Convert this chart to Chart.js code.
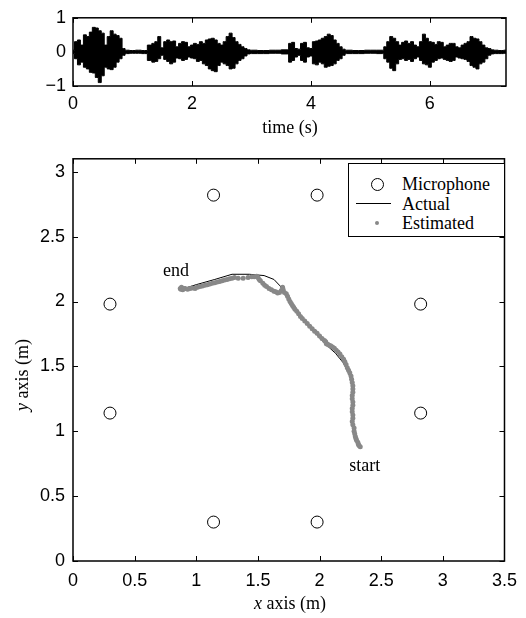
<!DOCTYPE html>
<html lang="en">
<head>
<meta charset="UTF-8" />
<title>Speaker tracking</title>
<script src="https://cdn.jsdelivr.net/npm/chart.js"></script>
<style>
  body { margin: 0; background: #fff; }
  #page { position: relative; width: 526px; height: 618px; overflow: hidden; }
  canvas { position: absolute; left: 0; }
  .lbl {
    position: absolute;
    font-family: "Liberation Serif", "Times New Roman", serif;
    font-size: 18px;
    line-height: 20px;
    color: #000;
    white-space: nowrap;
  }
  .lbl i { font-style: italic; }
  #legend {
    position: absolute; left: 348px; top: 163px; width: 155px; height: 72px;
    border: 1.5px solid #000; background: #fff;
  }
  #legend .sym { position: absolute; }
</style>
</head>
<body>
<div id="page">
  <canvas id="wave" width="526" height="140" style="top:0"></canvas>
  <canvas id="track" width="526" height="478" style="top:140px"></canvas>

  <div class="lbl" style="left:290px;top:117px;transform:translateX(-50%)">time (s)</div>
  <div class="lbl" style="left:290px;top:593px;transform:translateX(-50%)"><i>x</i> axis (m)</div>
  <div class="lbl" style="left:22px;top:375px;transform:translate(-50%,-50%) rotate(-90deg)"><i>y</i> axis (m)</div>

  <div id="legend">
    <div class="sym" style="left:22px;top:14px;width:11px;height:11px;border:1px solid #000;border-radius:50%"></div>
    <div class="lbl" style="left:53px;top:10px">Microphone</div>
    <div class="sym" style="left:7px;top:39px;width:35px;height:0;border-top:1px solid #000"></div>
    <div class="lbl" style="left:53px;top:30px">Actual</div>
    <div class="sym" style="left:26px;top:57px;width:4px;height:4px;background:#888;border-radius:50%"></div>
    <div class="lbl" style="left:53px;top:49px">Estimated</div>
  </div>
</div>

<script>
// ---- waveform envelope ----
const waveT = [0, 0.05, 0.1, 0.15, 0.2, 0.25, 0.3, 0.35, 0.4, 0.45, 0.5, 0.55, 0.6, 0.65, 0.7, 0.75, 0.8, 0.85, 0.9,
  1.0, 1.1, 1.2, 1.3, 1.35, 1.4, 1.45, 1.5, 1.55, 1.6, 1.65, 1.7, 1.75, 1.8, 1.85, 1.9, 1.95, 2.0, 2.05, 2.1, 2.15,
  2.2, 2.25, 2.3, 2.35, 2.4, 2.45, 2.5, 2.55, 2.6, 2.65, 2.7, 2.75, 2.8, 2.85, 2.9, 2.95, 3.0, 3.2, 3.4, 3.6, 3.65,
  3.7, 3.75, 3.8, 3.85, 3.9, 3.95, 4.0, 4.05, 4.1, 4.15, 4.2, 4.25, 4.3, 4.35, 4.4, 4.45, 4.5, 4.55, 4.6, 4.8, 5.0,
  5.2, 5.25, 5.3, 5.35, 5.4, 5.45, 5.5, 5.55, 5.6, 5.65, 5.7, 5.75, 5.8, 5.85, 5.9, 5.95, 6.0, 6.05, 6.1, 6.15, 6.2,
  6.25, 6.3, 6.35, 6.4, 6.45, 6.5, 6.55, 6.6, 6.65, 6.7, 6.75, 6.8, 6.85, 6.9, 6.95, 7.0, 7.05, 7.1, 7.2, 7.28];
const waveUpper = [0.05, 0.3, 0.35, 0.2, 0.5, 0.45, 0.58, 0.72, 0.7, 0.62, 0.55, 0.2, 0.45, 0.62, 0.52, 0.48, 0.4, 0.1, 0.05,
  0.04, 0.05, 0.04, 0.2, 0.25, 0.3, 0.45, 0.12, 0.3, 0.35, 0.3, 0.32, 0.15, 0.25, 0.3, 0.28, 0.15, 0.2, 0.25, 0.22, 0.3,
  0.25, 0.35, 0.38, 0.4, 0.35, 0.25, 0.2, 0.3, 0.45, 0.55, 0.42, 0.3, 0.22, 0.15, 0.1, 0.06, 0.05, 0.04, 0.05, 0.06, 0.25,
  0.28, 0.1, 0.08, 0.25, 0.28, 0.12, 0.1, 0.3, 0.32, 0.35, 0.4, 0.45, 0.52, 0.48, 0.35, 0.25, 0.15, 0.08, 0.05, 0.04, 0.05,
  0.05, 0.15, 0.3, 0.45, 0.4, 0.3, 0.2, 0.28, 0.32, 0.25, 0.3, 0.2, 0.15, 0.3, 0.52, 0.4, 0.3, 0.28, 0.22, 0.3, 0.28,
  0.15, 0.2, 0.25, 0.25, 0.15, 0.12, 0.2, 0.25, 0.3, 0.45, 0.4, 0.38, 0.3, 0.2, 0.12, 0.1, 0.06, 0.05, 0.04, 0.05];
const waveLower = [-0.05, -0.2, -0.38, -0.3, -0.45, -0.5, -0.6, -0.62, -0.75, -0.9, -0.7, -0.45, -0.5, -0.52, -0.45, -0.3, -0.2, -0.1, -0.05,
  -0.04, -0.04, -0.05, -0.25, -0.3, -0.28, -0.2, -0.1, -0.22, -0.28, -0.35, -0.3, -0.18, -0.2, -0.25, -0.22, -0.15, -0.18, -0.2, -0.28, -0.25,
  -0.35, -0.4, -0.5, -0.55, -0.58, -0.4, -0.3, -0.35, -0.4, -0.5, -0.48, -0.35, -0.25, -0.2, -0.12, -0.06, -0.05, -0.05, -0.04, -0.06, -0.3,
  -0.25, -0.15, -0.1, -0.25, -0.3, -0.15, -0.12, -0.35, -0.38, -0.3, -0.35, -0.45, -0.42, -0.4, -0.35, -0.25, -0.2, -0.1, -0.05, -0.05, -0.04,
  -0.05, -0.2, -0.3, -0.48, -0.55, -0.35, -0.22, -0.2, -0.25, -0.22, -0.28, -0.2, -0.15, -0.25, -0.35, -0.38, -0.45, -0.3, -0.25, -0.2, -0.18,
  -0.22, -0.25, -0.28, -0.25, -0.15, -0.18, -0.2, -0.22, -0.28, -0.4, -0.45, -0.5, -0.35, -0.3, -0.2, -0.1, -0.06, -0.05, -0.05, -0.04];

// ---- room geometry / track ----
const micX = [0.3, 0.3, 1.14, 1.98, 2.82, 2.82, 1.14, 1.98];
const micY = [1.98, 1.14, 2.82, 2.82, 1.98, 1.14, 0.3, 0.3];

const actualX = [0.865, 1.0, 1.15, 1.29, 1.43, 1.55, 1.63, 1.68, 1.72, 1.76, 1.82, 1.89, 1.97, 2.05, 2.13, 2.19, 2.23, 2.26, 2.27, 2.27, 2.27, 2.28, 2.3, 2.32, 2.34];
const actualY = [2.09, 2.13, 2.17, 2.21, 2.21, 2.2, 2.17, 2.12, 2.06, 2.0, 1.92, 1.83, 1.75, 1.67, 1.6, 1.53, 1.46, 1.38, 1.28, 1.18, 1.08, 1.0, 0.95, 0.91, 0.87];

const estX = [0.87, 0.875, 0.88, 0.89, 0.9, 0.91, 0.93, 0.95, 0.97, 0.99, 1.01, 1.03, 1.05, 1.07, 1.09, 1.11, 1.13, 1.15,
  1.17, 1.19, 1.21, 1.23, 1.25, 1.27, 1.29, 1.31, 1.34, 1.38, 1.42, 1.45, 1.47, 1.49, 1.5, 1.51, 1.52, 1.54, 1.555,
  1.57, 1.59, 1.61, 1.63, 1.645, 1.66, 1.675, 1.69, 1.7, 1.705, 1.715, 1.73, 1.74, 1.75, 1.76, 1.77, 1.78, 1.79, 1.8,
  1.815, 1.83, 1.845, 1.86, 1.88, 1.9, 1.92, 1.94, 1.96, 1.98, 2.0, 2.02, 2.04, 2.05, 2.055, 2.065, 2.075, 2.09, 2.105,
  2.12, 2.135, 2.15, 2.165, 2.18, 2.195, 2.205, 2.215, 2.225, 2.235, 2.245, 2.255, 2.26, 2.265, 2.27, 2.27, 2.27, 2.265,
  2.265, 2.27, 2.27, 2.265, 2.265, 2.27, 2.27, 2.265, 2.27, 2.28, 2.28, 2.285, 2.29, 2.295, 2.3, 2.31, 2.315, 2.32, 2.33];
const estY = [2.1, 2.095, 2.11, 2.09, 2.1, 2.1, 2.095, 2.1, 2.105, 2.1, 2.11, 2.115, 2.12, 2.125, 2.13, 2.135, 2.14, 2.145,
  2.15, 2.155, 2.16, 2.165, 2.17, 2.175, 2.18, 2.185, 2.18, 2.18, 2.185, 2.19, 2.19, 2.195, 2.185, 2.17, 2.16, 2.14, 2.125,
  2.115, 2.1, 2.09, 2.08, 2.075, 2.065, 2.07, 2.085, 2.11, 2.09, 2.07, 2.06, 2.04, 2.02, 2.0, 1.985, 1.97, 1.955, 1.94,
  1.925, 1.905, 1.885, 1.87, 1.85, 1.83, 1.81, 1.79, 1.77, 1.755, 1.735, 1.715, 1.7, 1.69, 1.675, 1.67, 1.665, 1.66, 1.65,
  1.64, 1.625, 1.61, 1.595, 1.575, 1.555, 1.535, 1.515, 1.49, 1.47, 1.45, 1.425, 1.4, 1.375, 1.35, 1.325, 1.3, 1.275,
  1.25, 1.225, 1.2, 1.175, 1.15, 1.125, 1.1, 1.075, 1.05, 1.025, 1.0, 0.98, 0.96, 0.945, 0.93, 0.915, 0.9, 0.89, 0.88];

const xy = (xs, ys) => xs.map((x, i) => ({ x: x, y: ys[i] }));

const tickFont = { family: "'Liberation Sans', Arial, sans-serif", size: 18 };
const plain = (v) => String(Math.round(v * 100) / 100).replace("-", "\u2212");

// MATLAB-ish box with inward ticks
const framePlugin = {
  id: "frame",
  afterDraw(chart) {
    const { ctx, chartArea: a, scales } = chart;
    const len = 5;
    ctx.save();
    ctx.strokeStyle = "#000";
    ctx.lineWidth = 1;
    ctx.beginPath();
    scales.x.ticks.forEach((t) => {
      const px = Math.round(scales.x.getPixelForValue(t.value)) + 0.5;
      ctx.moveTo(px, a.bottom); ctx.lineTo(px, a.bottom - len);
      ctx.moveTo(px, a.top); ctx.lineTo(px, a.top + len);
    });
    scales.y.ticks.forEach((t) => {
      const py = Math.round(scales.y.getPixelForValue(t.value)) + 0.5;
      ctx.moveTo(a.left, py); ctx.lineTo(a.left + len, py);
      ctx.moveTo(a.right, py); ctx.lineTo(a.right - len, py);
    });
    ctx.stroke();
    ctx.lineWidth = 1.5;
    ctx.strokeRect(a.left, a.top, a.right - a.left, a.bottom - a.top);
    // start / end labels on the track panel
    const notes = chart.options.plugins.frame && chart.options.plugins.frame.notes;
    if (notes) {
      ctx.fillStyle = "#000";
      ctx.font = "18px 'Liberation Serif', 'Times New Roman', serif";
      ctx.textBaseline = "alphabetic";
      notes.forEach((n) => {
        ctx.fillText(n.text, scales.x.getPixelForValue(n.x), scales.y.getPixelForValue(n.y));
      });
    }
    ctx.restore();
  },
};

new Chart(document.getElementById("wave"), {
  type: "line",
  data: {
    datasets: [
      {
        data: xy(waveT, waveUpper),
        borderColor: "#000",
        backgroundColor: "#000",
        borderWidth: 1,
        pointRadius: 0,
        stepped: "middle",
        fill: "+1",
      },
      {
        data: xy(waveT, waveLower),
        borderColor: "#000",
        borderWidth: 1,
        pointRadius: 0,
        stepped: "middle",
        fill: false,
      },
    ],
  },
  options: {
    responsive: false,
    animation: false,
    layout: { padding: { top: 16, right: 20, left: 0, bottom: 0 } },
    plugins: { legend: { display: false }, tooltip: { enabled: false } },
    scales: {
      x: {
        type: "linear",
        min: 0,
        max: 7.28,
        grid: { display: false, drawTicks: false },
        border: { display: false },
        ticks: { stepSize: 2, includeBounds: false, font: tickFont, color: "#000", padding: 7, maxRotation: 0, callback: plain },
        afterFit: (s) => { s.height = 54; },
      },
      y: {
        min: -1,
        max: 1,
        grid: { display: false, drawTicks: false },
        border: { display: false },
        ticks: { stepSize: 1, font: tickFont, color: "#000", padding: 7, callback: plain },
        afterFit: (s) => { s.width = 73; },
      },
    },
  },
  plugins: [framePlugin],
});

new Chart(document.getElementById("track"), {
  type: "scatter",
  data: {
    datasets: [
      {
        label: "Microphone",
        data: xy(micX, micY),
        pointRadius: 6,
        pointBorderWidth: 1,
        pointBorderColor: "#000",
        pointBackgroundColor: "rgba(255,255,255,0)",
        order: 3,
      },
      {
        label: "Actual",
        data: xy(actualX, actualY),
        showLine: true,
        borderColor: "#000",
        borderWidth: 1,
        pointRadius: 0,
        order: 2,
      },
      {
        label: "Estimated",
        data: xy(estX, estY),
        pointRadius: 2.5,
        pointBorderWidth: 0,
        pointBackgroundColor: "#888",
        order: 1,
      },
    ],
  },
  options: {
    responsive: false,
    animation: false,
    layout: { padding: { top: 14, right: 20, left: 0, bottom: 0 } },
    plugins: {
      legend: { display: false },
      tooltip: { enabled: false },
      frame: {
        notes: [
          { text: "end", x: 0.73, y: 2.2 },
          { text: "start", x: 2.24, y: 0.69 },
        ],
      },
    },
    scales: {
      x: {
        type: "linear",
        min: 0,
        max: 3.5,
        grid: { display: false, drawTicks: false },
        border: { display: false },
        ticks: { stepSize: 0.5, font: tickFont, color: "#000", padding: 9, maxRotation: 0, callback: plain },
        afterFit: (s) => { s.height = 57; },
      },
      y: {
        min: 0,
        max: 3.1,
        grid: { display: false, drawTicks: false },
        border: { display: false },
        ticks: { stepSize: 0.5, includeBounds: false, font: tickFont, color: "#000", padding: 8, callback: plain },
        afterFit: (s) => { s.width = 73; },
      },
    },
  },
  plugins: [framePlugin],
});
</script>
</body>
</html>
